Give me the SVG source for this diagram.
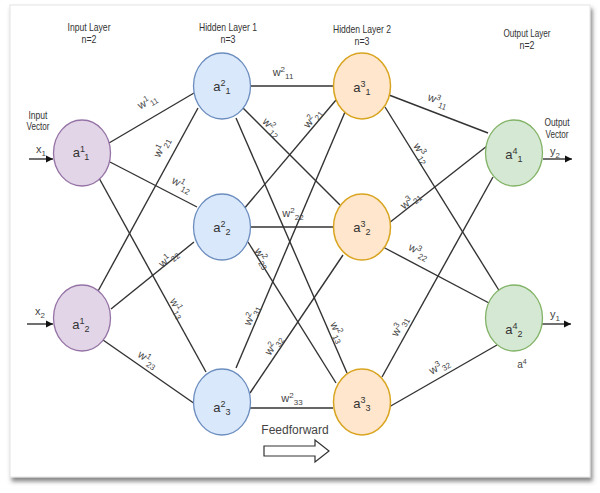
<svg xmlns="http://www.w3.org/2000/svg" width="600" height="493" viewBox="0 0 600 493">
<style>
.t{font-family:"Liberation Sans",Arial,sans-serif;font-size:11px;fill:#333;text-anchor:middle}
.n{font-family:"Liberation Sans",Arial,sans-serif;font-size:13px;fill:#333;text-anchor:middle}
.w{font-family:"Liberation Sans",Arial,sans-serif;font-size:11px;fill:#444;text-anchor:middle}
.s{font-size:8px}
.ns{font-size:9px}
.e line{stroke:#333;stroke-width:1.4}
.in{fill:#e1d5e7;stroke:#9673a6;stroke-width:1.3}
.h1{fill:#dae8fc;stroke:#6c8ebf;stroke-width:1.3}
.h2{fill:#ffe6cc;stroke:#d9a520;stroke-width:1.5}
.out{fill:#d5e8d4;stroke:#82b366;stroke-width:1.3}
.io line{stroke:#333;stroke-width:1.4}
</style>
<defs>
<filter id="sh" x="-5%" y="-5%" width="110%" height="110%">
<feDropShadow dx="2" dy="4" stdDeviation="2" flood-color="#444" flood-opacity="0.65"/>
</filter>
<marker id="ah" markerWidth="8" markerHeight="8" refX="7" refY="4" orient="auto" markerUnits="userSpaceOnUse">
<path d="M0,0.5 L7,4 L0,7.5 Z" fill="#111"/>
</marker>
</defs>
<rect x="0" y="0" width="600" height="493" fill="#fff"/>
<rect x="10" y="5" width="580" height="472" fill="#fff" stroke="#e4e4e4" stroke-width="1" filter="url(#sh)"/>

<g id="titles">
<text class="t" x="89" y="31" textLength="43" lengthAdjust="spacingAndGlyphs">Input Layer</text>
<text class="t" x="89" y="43" textLength="15" lengthAdjust="spacingAndGlyphs">n=2</text>
<text class="t" x="228" y="31" textLength="58" lengthAdjust="spacingAndGlyphs">Hidden Layer 1</text>
<text class="t" x="228" y="43" textLength="15" lengthAdjust="spacingAndGlyphs">n=3</text>
<text class="t" x="362" y="33" textLength="58" lengthAdjust="spacingAndGlyphs">Hidden Layer 2</text>
<text class="t" x="362" y="45" textLength="15" lengthAdjust="spacingAndGlyphs">n=3</text>
<text class="t" x="527" y="37" textLength="47" lengthAdjust="spacingAndGlyphs">Output Layer</text>
<text class="t" x="527" y="49" textLength="15" lengthAdjust="spacingAndGlyphs">n=2</text>
<text class="t" x="38" y="119" textLength="19" lengthAdjust="spacingAndGlyphs">Input</text>
<text class="t" x="38" y="130" textLength="23" lengthAdjust="spacingAndGlyphs">Vector</text>
<text class="t" x="557" y="126" textLength="25" lengthAdjust="spacingAndGlyphs">Output</text>
<text class="t" x="557" y="138" textLength="23" lengthAdjust="spacingAndGlyphs">Vector</text>
</g>

<g id="connectors" class="e">
<line x1="109" y1="143" x2="194" y2="93"/>
<line x1="110" y1="162" x2="197" y2="207"/>
<line x1="99" y1="178" x2="206" y2="372"/>
<line x1="97" y1="293" x2="198" y2="108"/>
<line x1="111" y1="309" x2="194" y2="242"/>
<line x1="103" y1="340" x2="195" y2="404"/>
<line x1="250" y1="86" x2="333" y2="86"/>
<line x1="243" y1="108" x2="340" y2="205"/>
<line x1="236" y1="118" x2="347" y2="373"/>
<line x1="243" y1="210" x2="336" y2="100"/>
<line x1="250" y1="227" x2="333" y2="227"/>
<line x1="248" y1="242" x2="336" y2="383"/>
<line x1="236" y1="368" x2="345" y2="112"/>
<line x1="250" y1="393" x2="343" y2="255"/>
<line x1="250" y1="408" x2="333" y2="408"/>
<line x1="389" y1="95" x2="488" y2="133"/>
<line x1="385" y1="107" x2="500" y2="292"/>
<line x1="389" y1="223" x2="487" y2="146"/>
<line x1="383" y1="247" x2="489" y2="303"/>
<line x1="382" y1="377" x2="493" y2="177"/>
<line x1="389" y1="407" x2="497" y2="345"/>
</g>

<g id="io-arrows" class="io">
<line x1="29" y1="159" x2="53" y2="159" marker-end="url(#ah)"/>
<line x1="27" y1="324" x2="53" y2="324" marker-end="url(#ah)"/>
<line x1="543" y1="159" x2="572" y2="159" marker-end="url(#ah)"/>
<line x1="542" y1="324" x2="571" y2="324" marker-end="url(#ah)"/>
</g>
<g id="io-labels">
<text class="w" x="41" y="153">x<tspan class="s" dy="3">1</tspan></text>
<text class="w" x="40" y="315">x<tspan class="s" dy="3">2</tspan></text>
<text class="w" x="555" y="155">y<tspan class="s" dy="3">2</tspan></text>
<text class="w" x="555" y="318">y<tspan class="s" dy="3">1</tspan></text>
<text class="w" x="522" y="368" style="font-size:10px">a<tspan style="font-size:7px" dy="-4">4</tspan></text>
</g>

<g id="weights">
<text class="w" transform="translate(147,101) rotate(-30)" y="4">w<tspan class="s" dy="-4">1</tspan><tspan class="s" dy="7">11</tspan></text>
<text class="w" transform="translate(161,147) rotate(-62)" y="4">w<tspan class="s" dy="-4">1</tspan><tspan class="s" dy="7">21</tspan></text>
<text class="w" transform="translate(182,184) rotate(28)" y="4">w<tspan class="s" dy="-4">1</tspan><tspan class="s" dy="7">12</tspan></text>
<text class="w" transform="translate(168,258) rotate(-40)" y="4">w<tspan class="s" dy="-4">1</tspan><tspan class="s" dy="7">22</tspan></text>
<text class="w" transform="translate(178,308) rotate(62)" y="4">w<tspan class="s" dy="-4">1</tspan><tspan class="s" dy="7">13</tspan></text>
<text class="w" transform="translate(148,359) rotate(34)" y="4">w<tspan class="s" dy="-4">1</tspan><tspan class="s" dy="7">23</tspan></text>

<text class="w" x="283" y="76">w<tspan class="s" dy="-4">2</tspan><tspan class="s" dy="7">11</tspan></text>
<text class="w" transform="translate(272,127) rotate(45)" y="4">w<tspan class="s" dy="-4">2</tspan><tspan class="s" dy="7">12</tspan></text>
<text class="w" transform="translate(312,118) rotate(-52)" y="4">w<tspan class="s" dy="-4">2</tspan><tspan class="s" dy="7">21</tspan></text>
<text class="w" x="293" y="217">w<tspan class="s" dy="-4">2</tspan><tspan class="s" dy="7">22</tspan></text>
<text class="w" transform="translate(263,258) rotate(58)" y="4">w<tspan class="s" dy="-4">2</tspan><tspan class="s" dy="7">23</tspan></text>
<text class="w" transform="translate(251,315) rotate(-66)" y="4">w<tspan class="s" dy="-4">2</tspan><tspan class="s" dy="7">31</tspan></text>
<text class="w" transform="translate(273,345) rotate(-56)" y="4">w<tspan class="s" dy="-4">2</tspan><tspan class="s" dy="7">32</tspan></text>
<text class="w" transform="translate(338,332) rotate(66)" y="4">w<tspan class="s" dy="-4">2</tspan><tspan class="s" dy="7">13</tspan></text>
<text class="w" x="292" y="402">w<tspan class="s" dy="-4">2</tspan><tspan class="s" dy="7">33</tspan></text>

<text class="w" transform="translate(438,100) rotate(21)" y="4">w<tspan class="s" dy="-4">3</tspan><tspan class="s" dy="7">11</tspan></text>
<text class="w" transform="translate(422,153) rotate(58)" y="4">w<tspan class="s" dy="-4">3</tspan><tspan class="s" dy="7">12</tspan></text>
<text class="w" transform="translate(410,200) rotate(-38)" y="4">w<tspan class="s" dy="-4">3</tspan><tspan class="s" dy="7">21</tspan></text>
<text class="w" transform="translate(419,251) rotate(28)" y="4">w<tspan class="s" dy="-4">3</tspan><tspan class="s" dy="7">22</tspan></text>
<text class="w" transform="translate(399,326) rotate(-61)" y="4">w<tspan class="s" dy="-4">3</tspan><tspan class="s" dy="7">31</tspan></text>
<text class="w" transform="translate(439,366) rotate(-30)" y="4">w<tspan class="s" dy="-4">3</tspan><tspan class="s" dy="7">32</tspan></text>
</g>

<g id="a1_1"><ellipse class="in" cx="82" cy="153" rx="28.5" ry="33"/><text class="n" x="81" y="157">a<tspan class="ns" dy="-5">1</tspan><tspan class="ns" dy="8">1</tspan></text></g>
<g id="a1_2"><ellipse class="in" cx="82" cy="318" rx="28.5" ry="33"/><text class="n" x="81" y="329">a<tspan class="ns" dy="-5">1</tspan><tspan class="ns" dy="8">2</tspan></text></g>
<g id="a2_1"><ellipse class="h1" cx="222" cy="86" rx="28.5" ry="33"/><text class="n" x="222" y="91">a<tspan class="ns" dy="-5">2</tspan><tspan class="ns" dy="8">1</tspan></text></g>
<g id="a2_2"><ellipse class="h1" cx="222" cy="227" rx="28.5" ry="33"/><text class="n" x="222" y="232">a<tspan class="ns" dy="-5">2</tspan><tspan class="ns" dy="8">2</tspan></text></g>
<g id="a2_3"><ellipse class="h1" cx="222" cy="402" rx="28.5" ry="33"/><text class="n" x="222" y="412">a<tspan class="ns" dy="-5">2</tspan><tspan class="ns" dy="8">3</tspan></text></g>
<g id="a3_1"><ellipse class="h2" cx="362" cy="86" rx="28.5" ry="33"/><text class="n" x="362" y="92">a<tspan class="ns" dy="-5">3</tspan><tspan class="ns" dy="8">1</tspan></text></g>
<g id="a3_2"><ellipse class="h2" cx="362" cy="227" rx="28.5" ry="33"/><text class="n" x="362" y="232">a<tspan class="ns" dy="-5">3</tspan><tspan class="ns" dy="8">2</tspan></text></g>
<g id="a3_3"><ellipse class="h2" cx="362" cy="402" rx="28.5" ry="33"/><text class="n" x="362" y="408">a<tspan class="ns" dy="-5">3</tspan><tspan class="ns" dy="8">3</tspan></text></g>
<g id="a4_1"><ellipse class="out" cx="514" cy="153" rx="28.5" ry="33"/><text class="n" x="514" y="159">a<tspan class="ns" dy="-5">4</tspan><tspan class="ns" dy="8">1</tspan></text></g>
<g id="a4_2"><ellipse class="out" cx="514" cy="318" rx="28.5" ry="33"/><text class="n" x="514" y="334">a<tspan class="ns" dy="-5">4</tspan><tspan class="ns" dy="8">2</tspan></text></g>

<g id="feedforward">
<text class="w" x="295" y="434" style="font-size:12px">Feedforward</text>
<path d="M264,446 L315,446 L315,440 L329,451 L315,462 L315,456 L264,456 Z" fill="#fff" stroke="#333" stroke-width="1.2"/>
</g>
</svg>
